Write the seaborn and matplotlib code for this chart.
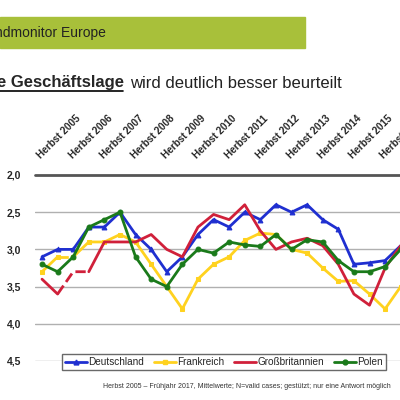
import matplotlib
matplotlib.use("Agg")
import matplotlib.pyplot as plt
import seaborn as sns
import pandas as pd
import numpy as np

sns.set_theme(style="white")
plt.rcParams['font.family'] = ['Liberation Sans', 'DejaVu Sans']

labels = [f"Herbst {y}" for y in range(2005, 2017)]
deutschland = [3.1, 3.0, 3.0, 2.7, 2.7, 2.5, 2.8, 3.0, 3.3, 3.1, 2.8, 2.6, 2.7, 2.5, 2.6, 2.4, 2.5, 2.4, 2.6, 2.73, 3.2, 3.18, 3.15, 2.95]
frankreich = [3.3, 3.1, 3.1, 2.9, 2.9, 2.8, 2.9, 3.2, 3.5, 3.8, 3.4, 3.2, 3.1, 2.88, 2.78, 2.8, 3.0, 3.05, 3.25, 3.43, 3.42, 3.6, 3.8, 3.5]
gb = [3.4, 3.6, 3.3, 3.3, 2.9, 2.9, 2.9, 2.8, 3.0, 3.1, 2.7, 2.53, 2.6, 2.4, 2.75, 3.0, 2.9, 2.85, 2.95, 3.2, 3.6, 3.75, 3.25, 2.95]
polen = [3.2, 3.3, 3.1, 2.7, 2.6, 2.5, 3.1, 3.4, 3.5, 3.2, 3.0, 3.05, 2.9, 2.94, 2.96, 2.8, 3.0, 2.87, 2.9, 3.15, 3.3, 3.3, 3.23, 3.0]

series = {"Deutschland": (deutschland, "#1f2fd0", "^"),
          "Frankreich": (frankreich, "#ffd21f", "s"),
          "Großbritannien": (gb, "#d0203a", None),
          "Polen": (polen, "#1a7a1a", "o")}
dashed = {"Frankreich": (1, 2), "Großbritannien": (1, 3)}

fig = plt.figure(figsize=(4, 4), dpi=100)
fig.patches.append(plt.Rectangle((0, 1-48/400), 305/400, 31/400, transform=fig.transFigure, color="#a8c03a", zorder=0))
fig.text(-0.012, 1-33/400, "ndmonitor Europe", fontsize=10, va="center", ha="left", color="#222")
fig.text(-0.008, 1-83/400, "e Geschäftslage", fontsize=12, fontweight="bold", va="center", ha="left")
fig.text(130/400, 1-83/400, "wird deutlich besser beurteilt", fontsize=12, va="center", ha="left", color="#222")
fig.lines.append(plt.Line2D([0, 123/400], [1-91/400]*2, transform=fig.transFigure, color="black", lw=1.2))

ax = fig.add_axes([35/400, 1-361/400, 1.0, 186/400])
handles = []
for name, (vals, col, mk) in series.items():
    x = np.arange(len(vals))
    df = pd.DataFrame({"x": x, "y": vals})
    if name in dashed:
        a, b = dashed[name]
        sns.lineplot(data=df.iloc[:a+1], x="x", y="y", color=col, lw=2, marker=mk, ms=3.5, mec=col, ax=ax)
        sns.lineplot(data=df.iloc[a:b+1], x="x", y="y", color=col, lw=2, ls="--", ax=ax)
        sns.lineplot(data=df.iloc[b:], x="x", y="y", color=col, lw=2, marker=mk, ms=3.5, mec=col, ax=ax)
    else:
        sns.lineplot(data=df, x="x", y="y", color=col, lw=2, marker=mk, ms=3.5, mec=col, ax=ax)
    handles.append(plt.Line2D([], [], color=col, lw=2, marker=mk, ms=3.5, mec=col, label=name))

ax.set_xlim(-0.45, 25.2)
ax.set_ylim(4.5, 2.0)
ax.set_yticks([2.0, 2.5, 3.0, 3.5, 4.0, 4.5])
ax.set_yticklabels(["2,0", "2,5", "3,0", "3,5", "4,0", "4,5"], fontsize=7.5, fontweight="bold")
ax.tick_params(axis="y", length=0, pad=10)
ax.set_xticks([])
ax.set_xlabel(""); ax.set_ylabel("")
for s in ax.spines.values():
    s.set_visible(False)
for v in [2.5, 3.0, 3.5, 4.0, 4.5]:
    ax.axhline(v, color="#b0b0b0", lw=1, zorder=0)
ax.axhline(2.0, color="#555555", lw=2, zorder=0, clip_on=False)
for i, lab in enumerate(labels):
    ax.text(2*i + 0.05, 1.8, lab, rotation=45, ha="left", va="bottom", rotation_mode="anchor",
            fontsize=7.2, fontweight="bold", clip_on=False)

leg = fig.legend(handles=handles, loc="center", bbox_to_anchor=(224/400, 1-362/400), ncol=4,
                 fontsize=7.2, frameon=True, fancybox=False, edgecolor="#444", handlelength=2.2,
                 columnspacing=1.0, handletextpad=0.1, borderpad=0.3)
leg.get_frame().set_linewidth(1)
fig.text(103/400, 1-386/400, "Herbst 2005 – Frühjahr 2017, Mittelwerte; N=valid cases; gestützt; nur eine Antwort möglich",
         fontsize=5, ha="left", va="center", color="#333")
fig.savefig("out.png", dpi=100)
